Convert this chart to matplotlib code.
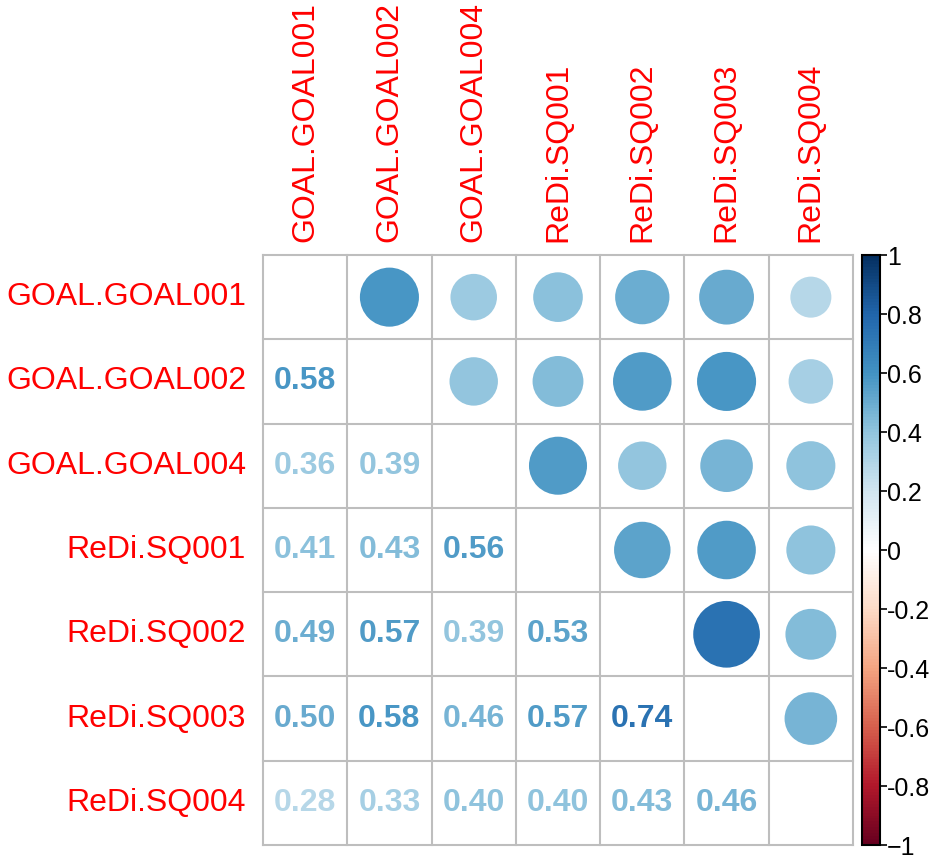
import numpy as np
import matplotlib.pyplot as plt
from matplotlib.colors import LinearSegmentedColormap, Normalize
from matplotlib.patches import Circle
from matplotlib.cm import ScalarMappable

plt.rcParams['font.family'] = ['Liberation Sans', 'DejaVu Sans']

labels = ['GOAL.GOAL001', 'GOAL.GOAL002', 'GOAL.GOAL004', 'ReDi.SQ001',
          'ReDi.SQ002', 'ReDi.SQ003', 'ReDi.SQ004']

# lower triangle, row by row
lower = [
    [],
    [0.58],
    [0.36, 0.39],
    [0.41, 0.43, 0.56],
    [0.49, 0.57, 0.39, 0.53],
    [0.50, 0.58, 0.46, 0.57, 0.74],
    [0.28, 0.33, 0.40, 0.40, 0.43, 0.46],
]

cbar_ticks = [-1, -0.8, -0.6, -0.4, -0.2, 0, 0.2, 0.4, 0.6, 0.8, 1]
cbar_labels = ['\u22121', '-0.8', '-0.6', '-0.4', '-0.2', '0',
               '0.2', '0.4', '0.6', '0.8', '1']

# corrplot RdBu palette
pal = ['#67001F', '#B2182B', '#D6604D', '#F4A582', '#FDDBC7', '#FFFFFF',
       '#D1E5F0', '#92C5DE', '#4393C3', '#2166AC', '#053061']
cmap = LinearSegmentedColormap.from_list('rdbu', pal, N=200)
norm = Normalize(-1, 1)

n = len(labels)
corr = np.eye(n)
for i, row in enumerate(lower):
    for j, v in enumerate(row):
        corr[i, j] = v
        corr[j, i] = v

fig = plt.figure(figsize=(9.36, 8.55), dpi=100)
ax = fig.add_axes([263 / 936, 10 / 855, 590 / 936, 590 / 855])
ax.set_xlim(0, n)
ax.set_ylim(n, 0)
ax.axis('off')

for i in range(n):
    for j in range(n):
        r = corr[i, j]
        col = cmap(norm(r))
        if j > i:
            ax.add_patch(Circle((j + 0.5, i + 0.5), 0.46 * np.sqrt(abs(r)),
                                color=col, lw=0))
        elif j < i:
            ax.text(j + 0.5, i + 0.5, f'{r:.2f}', color=col, fontsize=23,
                    fontweight='bold', ha='center', va='center')

for k in range(n + 1):
    ax.plot([0, n], [k, k], color='#BEBEBE', lw=1.5, clip_on=False)
    ax.plot([k, k], [0, n], color='#BEBEBE', lw=1.5, clip_on=False)

for k, lab in enumerate(labels):
    ax.text(-0.2, k + 0.5, lab, color='red', fontsize=23, ha='right', va='center')
    ax.text(k + 0.5, -0.15, lab, color='red', fontsize=23, ha='center',
            va='bottom', rotation=90)

cax = fig.add_axes([862 / 936, 10 / 855, 18 / 936, 590 / 855])
cb = fig.colorbar(ScalarMappable(norm=norm, cmap=cmap), cax=cax)
cb.set_ticks(cbar_ticks)
cb.set_ticklabels(cbar_labels)
cb.outline.set_linewidth(1.5)
cb.outline.set_edgecolor('black')
cax.tick_params(direction='out', length=5, width=1.2, labelsize=18, pad=0)

fig.savefig('out.png', dpi=100)
